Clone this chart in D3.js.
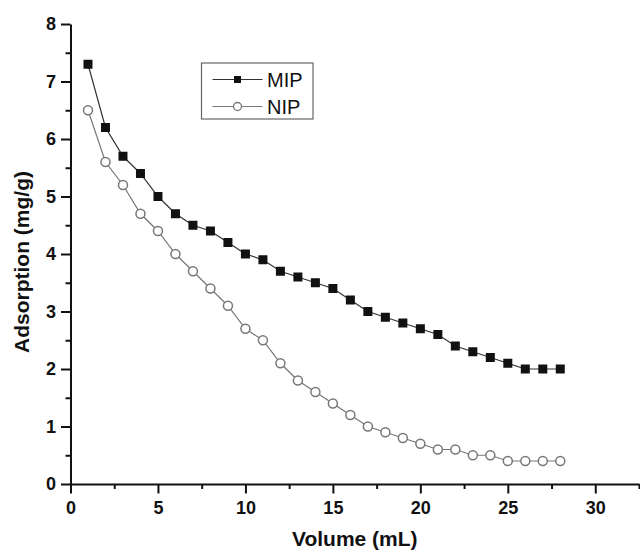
<!DOCTYPE html>
<html>
<head>
<meta charset="utf-8">
<script src="https://cdn.jsdelivr.net/npm/d3@7"></script>
<style>
  body { margin: 0; background: #fff; }
</style>
</head>
<body>
<div id="chart"></div>
<script>
const volume = [1, 2, 3, 4, 5, 6, 7, 8, 9, 10, 11, 12, 13, 14, 15, 16, 17, 18, 19, 20, 21, 22, 23, 24, 25, 26, 27, 28];
const mip = [7.3, 6.2, 5.7, 5.4, 5.0, 4.7, 4.5, 4.4, 4.2, 4.0, 3.9, 3.7, 3.6, 3.5, 3.4, 3.2, 3.0, 2.9, 2.8, 2.7, 2.6, 2.4, 2.3, 2.2, 2.1, 2.0, 2.0, 2.0];
const nip = [6.5, 5.6, 5.2, 4.7, 4.4, 4.0, 3.7, 3.4, 3.1, 2.7, 2.5, 2.1, 1.8, 1.6, 1.4, 1.2, 1.0, 0.9, 0.8, 0.7, 0.6, 0.6, 0.5, 0.5, 0.4, 0.4, 0.4, 0.4];
const xTicks = [0, 5, 10, 15, 20, 25, 30];
const xMinor = [2.5, 7.5, 12.5, 17.5, 22.5, 27.5, 32.5];
const yTicks = [0, 1, 2, 3, 4, 5, 6, 7, 8];
const yMinor = [0.5, 1.5, 2.5, 3.5, 4.5, 5.5, 6.5, 7.5];

const W = 640, H = 556;
const margin = { top: 24, right: 1, bottom: 72, left: 70.5 };
const width = W - margin.left - margin.right;
const height = H - margin.top - margin.bottom;
const font = "Arial, 'Liberation Sans', sans-serif";

const svg = d3.select("#chart")
    .append("svg")
    .attr("width", W)
    .attr("height", H)
    .attr("font-family", font)
    .append("g")
    .attr("transform", `translate(${margin.left},${margin.top})`);

const x = d3.scaleLinear().domain([0, 32.5]).range([0, width]);
const y = d3.scaleLinear().domain([0, 8]).range([height, 0]);

function styleAxis(g) {
    g.attr("font-family", font)
        .attr("font-size", 18)
        .attr("font-weight", "bold");
    g.selectAll("line, path")
        .attr("stroke", "#111")
        .attr("stroke-width", 2);
    g.selectAll("text")
        .attr("fill", "#111")
        .attr("font-size", 18)
        .attr("font-weight", "bold");
}

// minor ticks, no labels
svg.append("g")
    .attr("transform", `translate(0,${height})`)
    .call(d3.axisBottom(x).tickValues(xMinor).tickSize(5).tickSizeOuter(0).tickFormat(""))
    .call(g => g.select(".domain").remove())
    .call(styleAxis);

svg.append("g")
    .call(d3.axisLeft(y).tickValues(yMinor).tickSize(5).tickSizeOuter(0).tickFormat(""))
    .call(g => g.select(".domain").remove())
    .call(styleAxis);

svg.append("g")
    .attr("transform", `translate(0,${height})`)
    .call(d3.axisBottom(x).tickValues(xTicks).tickSize(9.5).tickSizeOuter(0).tickPadding(7.5))
    .call(styleAxis);

svg.append("g")
    .call(d3.axisLeft(y).tickValues(yTicks).tickSize(9.5).tickSizeOuter(0).tickPadding(5))
    .call(styleAxis);

// axis titles
svg.append("text")
    .attr("text-anchor", "middle")
    .attr("x", width / 2)
    .attr("y", height + 62)
    .attr("font-size", 21)
    .attr("font-weight", "bold")
    .attr("fill", "#111")
    .text("Volume (mL)");

svg.append("text")
    .attr("text-anchor", "middle")
    .attr("transform", "rotate(-90)")
    .attr("x", -(height / 2 + 8))
    .attr("y", -42)
    .attr("font-size", 21)
    .attr("font-weight", "bold")
    .attr("fill", "#111")
    .text("Adsorption (mg/g)");

const mipData = volume.map((v, i) => ({ v: v, a: mip[i] }));
const nipData = volume.map((v, i) => ({ v: v, a: nip[i] }));

const line = d3.line()
    .x(d => x(d.v))
    .y(d => y(d.a));

svg.append("path")
    .datum(mipData)
    .attr("d", line)
    .attr("fill", "none")
    .attr("stroke", "#333")
    .attr("stroke-width", 1.2);

svg.append("path")
    .datum(nipData)
    .attr("d", line)
    .attr("fill", "none")
    .attr("stroke", "#777")
    .attr("stroke-width", 1.2);

const sq = 9;
svg.selectAll(".mip")
    .data(mipData)
    .enter()
    .append("rect")
    .attr("class", "mip")
    .attr("x", d => x(d.v) - sq / 2)
    .attr("y", d => y(d.a) - sq / 2)
    .attr("width", sq)
    .attr("height", sq)
    .attr("fill", "#111");

svg.selectAll(".nip")
    .data(nipData)
    .enter()
    .append("circle")
    .attr("class", "nip")
    .attr("cx", d => x(d.v))
    .attr("cy", d => y(d.a))
    .attr("r", 4.5)
    .attr("fill", "#fff")
    .attr("stroke", "#777")
    .attr("stroke-width", 1.5);

// legend
const legend = svg.append("g")
    .attr("transform", `translate(${201.5 - margin.left},${63 - margin.top})`);

legend.append("rect")
    .attr("width", 111.5)
    .attr("height", 56)
    .attr("fill", "#fff")
    .attr("stroke", "#666")
    .attr("stroke-width", 1.2);

legend.append("line")
    .attr("x1", 11).attr("x2", 61).attr("y1", 16.5).attr("y2", 16.5)
    .attr("stroke", "#333").attr("stroke-width", 1.2);
legend.append("rect")
    .attr("x", 36 - 3.5).attr("y", 16.5 - 3.5).attr("width", 7).attr("height", 7)
    .attr("fill", "#111");
legend.append("text")
    .attr("x", 65.5).attr("y", 23.5)
    .attr("font-size", 20)
    .attr("fill", "#111")
    .text("MIP");

legend.append("line")
    .attr("x1", 11).attr("x2", 61).attr("y1", 43.5).attr("y2", 43.5)
    .attr("stroke", "#777").attr("stroke-width", 1.2);
legend.append("circle")
    .attr("cx", 36).attr("cy", 43.5).attr("r", 4)
    .attr("fill", "#fff").attr("stroke", "#777").attr("stroke-width", 1.3);
legend.append("text")
    .attr("x", 65.5).attr("y", 50.5)
    .attr("font-size", 20)
    .attr("fill", "#111")
    .text("NIP");
</script>
</body>
</html>
